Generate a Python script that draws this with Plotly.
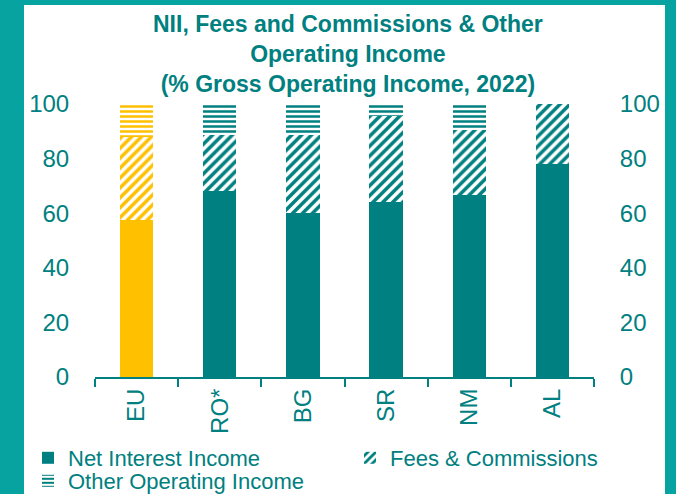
import plotly.graph_objects as go

categories = ["EU", "RO*", "BG", "SR", "NM", "AL"]
nii = [57.5, 68.0, 60.0, 64.0, 66.5, 78.0]
fees = [30.5, 20.5, 28.5, 31.5, 24.0, 22.0]
other = [12.0, 11.5, 11.5, 4.5, 9.5, 0.0]
y_ticks = [0, 20, 40, 60, 80, 100]

TEAL = "#008080"
YELLOW = "#FFC000"
FONT = "Liberation Sans, Arial, sans-serif"

W, H = 676, 494
L, R, T, B = 95, 82, 104, 117
PW, PH = W - L - R, H - T - B


def px_x(p):
    return (p - L) / PW


def px_y(p):
    return (H - B - p) / PH


fig = go.Figure()

series = [
    ("Net Interest Income", nii, dict(shape=""), "legend"),
    ("Fees & Commissions", fees, dict(shape="/", size=7, solidity=0.5), "legend2"),
    ("Other Operating Income", other, dict(shape="-", size=5, solidity=0.5), "legend3"),
]

for name, vals, pat, leg in series:
    p = dict(pat)
    if p["shape"]:
        p.update(fgcolor=YELLOW, bgcolor="white", fillmode="replace")
    fig.add_trace(go.Bar(
        x=categories[:1], y=vals[:1], name=name, showlegend=False,
        marker=dict(color=YELLOW, line=dict(width=0), pattern=p),
        legend=leg,
    ))
    p2 = dict(pat)
    if p2["shape"]:
        p2.update(fgcolor=TEAL, bgcolor="white", fillmode="replace")
    fig.add_trace(go.Bar(
        x=categories[1:], y=vals[1:], name=name,
        marker=dict(color=TEAL, line=dict(width=0), pattern=p2),
        legend=leg,
    ))

fig.add_trace(go.Scatter(x=categories, y=[None] * len(categories), yaxis="y2",
                         showlegend=False, hoverinfo="skip", mode="markers"))

title_text = ("<b>NII, Fees and Commissions & Other</b><br><b>Operating Income</b><br>"
              "<b>(% Gross Operating Income, 2022)</b>")


def leg(xpx, ypx):
    return dict(
        orientation="h", xref="container", yref="container",
        x=xpx / W, y=(H - ypx) / H, xanchor="left", yanchor="middle",
        bgcolor="rgba(0,0,0,0)", font=dict(size=22, color=TEAL),
        itemwidth=30, borderwidth=0,
    )


fig.update_layout(
    width=W, height=H,
    margin=dict(l=L, r=R, t=T, b=B, pad=0, autoexpand=False),
    paper_bgcolor="#07a3a0",
    plot_bgcolor="white",
    barmode="stack",
    bargap=0.6,
    font=dict(family=FONT, size=24, color=TEAL),
    annotations=[dict(
        text=title_text, x=px_x(348), y=px_y(54), xref="paper", yref="paper",
        xanchor="center", yanchor="middle", showarrow=False,
        font=dict(family=FONT, size=23, color=TEAL),
    )],
    shapes=[dict(type="rect", xref="paper", yref="paper",
                 x0=px_x(24), x1=px_x(665), y0=px_y(H + 20), y1=px_y(5),
                 fillcolor="white", line=dict(width=0), layer="below")],
    xaxis=dict(
        type="category", categoryorder="array", categoryarray=categories,
        showline=True, linecolor=TEAL, linewidth=2,
        ticks="outside", tickson="boundaries", ticklen=8, tickwidth=2, tickcolor=TEAL,
        tickangle=-90, tickfont=dict(size=24, color=TEAL),
        showgrid=False, zeroline=False,
    ),
    yaxis=dict(
        range=[0, 100], tickvals=y_ticks, showgrid=False, zeroline=False,
        showline=False, ticks="outside", ticklen=20, tickcolor="rgba(0,0,0,0)",
        tickfont=dict(size=24, color=TEAL),
    ),
    yaxis2=dict(
        range=[0, 100], tickvals=y_ticks, overlaying="y", side="right",
        showgrid=False, zeroline=False, showline=False,
        ticks="outside", ticklen=20, tickcolor="rgba(0,0,0,0)",
        tickfont=dict(size=24, color=TEAL),
    ),
    legend=leg(28, 458),
    legend2=leg(350, 458),
    legend3=leg(28, 481),
)

fig.write_html("out.html", config={"displayModeBar": False},
               post_script="document.body.style.margin='0px';")
